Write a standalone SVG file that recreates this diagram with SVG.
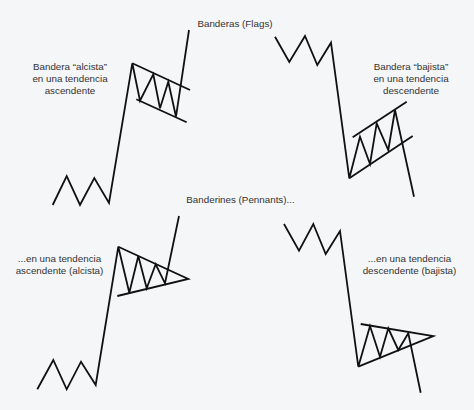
<svg xmlns="http://www.w3.org/2000/svg" width="474" height="410" viewBox="0 0 474 410">
<style>
.bg{fill:#f5f6f8}
.ln{fill:none;stroke:#111;stroke-width:1.8;stroke-linejoin:miter;stroke-linecap:butt}
.t{font-family:"Liberation Sans",Arial,sans-serif;font-size:9.8px;fill:#333;text-anchor:middle}
</style>
<rect class="bg" x="0" y="0" width="474" height="410"/>
<g id="titles">
<text class="t" x="235" y="27">Banderas (Flags)</text>
<text class="t" x="240.5" y="203">Banderines (Pennants)...</text>
</g>
<g id="bull-flag">
<text class="t" x="70" y="70">Bandera “alcista”</text>
<text class="t" x="70" y="82">en una tendencia</text>
<text class="t" x="70" y="94">ascendente</text>
<polyline class="ln" points="52.7,205 66.7,176 80,205 94.3,178 109,203 132.3,63.3 140,100.7 153.3,74.3 160,108.3 168.3,81.7 176,116.7 189,30"/>
<line class="ln" x1="132.3" y1="63.3" x2="190" y2="90"/>
<line class="ln" x1="136.3" y1="99.3" x2="186.7" y2="122.3"/>
</g>
<g id="bear-flag">
<text class="t" x="411" y="70">Bandera “bajista”</text>
<text class="t" x="411" y="82">en una tendencia</text>
<text class="t" x="411" y="94">descendente</text>
<polyline class="ln" points="275,36.7 289.3,62 305,36 317.3,65 331,42.7 349.3,178.3 360,136.7 370,164 376.7,123.3 388.3,150 395,110 414,196.7"/>
<line class="ln" x1="352.7" y1="137.3" x2="406.7" y2="101.7"/>
<line class="ln" x1="349.3" y1="178.3" x2="412.7" y2="136"/>
</g>
<g id="bull-pennant">
<text class="t" x="59.5" y="262">...en una tendencia</text>
<text class="t" x="59.5" y="274">ascendente (alcista)</text>
<polyline class="ln" points="37.3,389.3 53.3,360 66.7,389.3 81,361.7 95.7,385 118.3,246.7 129.3,292.7 138.3,256 146.7,288.3 155.7,264.3 165,283.3 179,216"/>
<polyline class="ln" points="118.3,246.7 188.3,279 117.3,296"/>
</g>
<g id="bear-pennant">
<text class="t" x="409.5" y="262">...en una tendencia</text>
<text class="t" x="409.5" y="274">descendente (bajista)</text>
<polyline class="ln" points="284,224 299,250.7 313.3,224 325.7,254 340,231 358.3,366.7 370,326 380,356.7 388.3,328.3 398.3,350 408.3,333.3 420.7,392.7"/>
<polyline class="ln" points="360.7,324 433.3,336 358.3,366.7"/>
</g>
</svg>
